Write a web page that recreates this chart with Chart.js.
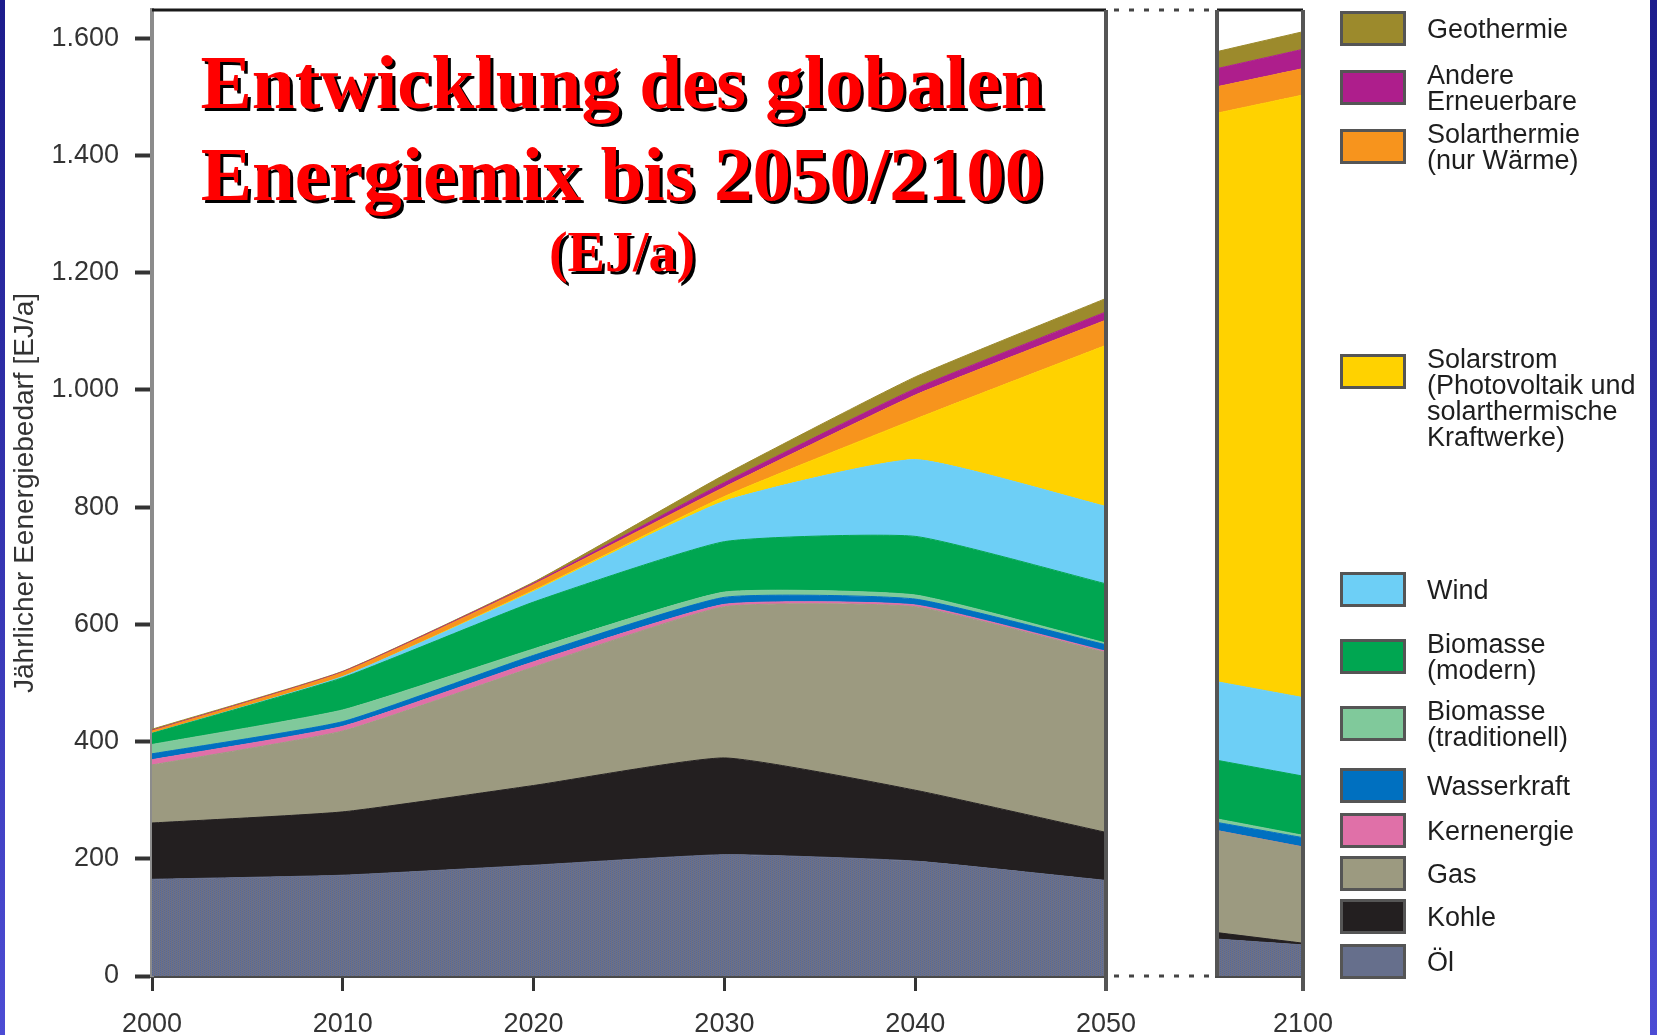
<!DOCTYPE html>
<html lang="de">
<head>
<meta charset="utf-8">
<script src="https://cdn.jsdelivr.net/npm/chart.js@4.4.1/dist/chart.umd.min.js"></script>
<style>
  html, body { margin: 0; padding: 0; }
  body {
    width: 1657px; height: 1035px; position: relative; overflow: hidden;
    background: linear-gradient(#1c1c8c, #4c4cd4);
    font-family: "Liberation Sans", Arial, sans-serif;
  }
  #panel { position: absolute; left: 5px; top: 0; width: 1645px; height: 1035px; background: #fff; }
  canvas { position: absolute; top: 0; }
  #c1 { left: 0; }
  #c2 { left: 1190px; }
  .title {
    position: absolute; left: 0; width: 1244px; text-align: center;
    font-family: "Liberation Serif", "Times New Roman", serif; font-weight: bold;
    color: #ff0000; text-shadow: 3px 3px 0 #000; line-height: 1; white-space: nowrap;
  }
  .lg-box { position: absolute; left: 1340px; width: 60px; height: 29px; border: 3px solid #555; }
  .lg-text { position: absolute; left: 1427px; font-size: 27px; line-height: 26px; color: #1e1e1e; white-space: pre; }
</style>
</head>
<body>
<div id="panel"></div>
<canvas id="c1" width="1217" height="1035"></canvas>
<canvas id="c2" width="170" height="1035"></canvas>
<div class="title" style="top:44px;font-size:77px;">Entwicklung des globalen</div>
<div class="title" style="top:136px;font-size:77px;">Energiemix bis 2050/2100</div>
<div class="title" style="top:224px;font-size:56px;">(EJ/a)</div>
<div id="legend"></div>
<script>
// Jahre und Werte (EJ/a)
const years = [2000, 2010, 2020, 2030, 2040, 2050];
const oel          = [165, 172, 189, 207, 196, 163];
const kohle        = [96, 108, 136, 165, 121, 82];
const gas          = [99, 138, 202, 258, 313, 307];
const kern         = [9, 8, 9, 4, 3, 2];
const wasser       = [10, 8, 11, 12, 10, 11];
const bioTrad      = [16, 20, 11, 9, 7, 3];
const bioModern    = [19, 55, 80, 86, 100, 101];
const wind         = [0, 2, 18, 69, 131, 132];
const solarstrom   = [0, 0, 2, 8, 69, 275];
const solarthermie = [4, 7, 10, 16, 41, 43];
const andere       = [1, 1, 2, 8, 11, 14];
const geothermie   = [2, 1, 2, 13, 20, 23];

// Säule 2100 (linker und rechter Rand)
const years2100 = [2080, 2100];
const oel2100          = [63, 53];
const kohle2100        = [11, 3];
const gas2100          = [174, 164];
const kern2100         = [0, 0];
const wasser2100       = [14, 16];
const bioTrad2100      = [6, 4];
const bioModern2100    = [100, 101];
const wind2100         = [134, 134];
const solarstrom2100   = [970, 1028];
const solarthermie2100 = [45, 45];
const andere2100       = [31, 33];
const geothermie2100   = [29, 30];

const yTicks = [0, 200, 400, 600, 800, 1000, 1200, 1400, 1600];

const names = ['Öl', 'Kohle', 'Gas', 'Kernenergie', 'Wasserkraft', 'Biomasse (traditionell)',
  'Biomasse (modern)', 'Wind', 'Solarstrom', 'Solarthermie', 'Andere Erneuerbare', 'Geothermie'];
const legendText = ['Öl', 'Kohle', 'Gas', 'Kernenergie', 'Wasserkraft', 'Biomasse\n(traditionell)',
  'Biomasse\n(modern)', 'Wind', 'Solarstrom\n(Photovoltaik und\nsolarthermische\nKraftwerke)',
  'Solarthermie\n(nur Wärme)', 'Andere\nErneuerbare', 'Geothermie'];
const colors = ['#666f8c', '#231f20', '#9c9a80', '#e070a8', '#0070c0', '#80c99b',
  '#00a651', '#6dcff6', '#ffd200', '#f7941d', '#ae1e8c', '#9c8a2c'];
const legendTop = [944, 899, 856, 813, 768, 706, 639, 572, 354, 129, 70, 11];

const series = [oel, kohle, gas, kern, wasser, bioTrad, bioModern, wind, solarstrom, solarthermie, andere, geothermie];
const series2100 = [oel2100, kohle2100, gas2100, kern2100, wasser2100, bioTrad2100, bioModern2100,
  wind2100, solarstrom2100, solarthermie2100, andere2100, geothermie2100];

const Y_MAX = 1648;
const tickFont = { family: '"Liberation Sans", Arial, sans-serif', size: 27 };

function fmt(v) {
  return String(v).replace(/\B(?=(\d{3})+(?!\d))/g, '.');
}

// gesprenkeltes Muster für Öl
function oelPattern(ctx) {
  const c = document.createElement('canvas');
  c.width = 4; c.height = 4;
  const g = c.getContext('2d');
  const cols = ['#5c6a8a', '#70717f', '#63709a', '#6d6f86'];
  for (let i = 0; i < 4; i++) {
    for (let j = 0; j < 4; j++) {
      g.fillStyle = cols[(i + 2 * j) % 4];
      g.fillRect(i, j, 1, 1);
    }
  }
  return ctx.createPattern(c, 'repeat');
}

function buildDatasets(xs, cols, ctx) {
  return cols.map((vals, i) => ({
    label: names[i],
    data: vals.map((v, j) => ({ x: xs[j], y: v })),
    backgroundColor: i === 0 ? oelPattern(ctx) : colors[i],
    borderColor: i === 0 ? '#666f8c' : colors[i],
    borderWidth: 1,
    pointRadius: 0,
    fill: i === 0 ? 'origin' : '-1',
    tension: 0.15
  }));
}

function yAxis(show) {
  return {
    stacked: true, min: 0, max: Y_MAX, display: show,
    afterBuildTicks: s => { s.ticks = yTicks.map(v => ({ value: v })); },
    afterFit: s => {
      if (show) s.width = 146;
      s.paddingTop = 0;
      s.paddingBottom = 0;
    },
    ticks: { font: tickFont, color: '#333', padding: 16, callback: v => fmt(v) },
    grid: { drawOnChartArea: false, tickLength: 17, tickWidth: 4, tickColor: '#333' },
    border: { color: '#8c8c8c', width: 4 },
    title: {
      display: true, text: 'Jährlicher Eenergiebedarf [EJ/a]', color: '#333',
      font: { family: '"Liberation Sans", Arial, sans-serif', size: 28 }, padding: { top: 2, bottom: 0 }
    }
  };
}

function xAxis(min, max, tickVals) {
  return {
    type: 'linear', min: min, max: max,
    afterBuildTicks: s => { s.ticks = tickVals.map(v => ({ value: v })); },
    afterFit: s => {
      s.height = 59;
      s.paddingLeft = 0;
      s.paddingRight = 0;
    },
    ticks: { font: tickFont, color: '#333', padding: 17, maxRotation: 0, callback: v => String(v) },
    grid: { drawOnChartArea: false, tickLength: 15, tickWidth: 3, tickColor: '#333' },
    border: { color: '#4a4a4a', width: 4 }
  };
}

// Rahmen oben/rechts und gepunktete Verbindung zur 2100-Säule
const framePlugin = {
  id: 'frame',
  afterDraw(chart, args, opts) {
    const { ctx, chartArea: a } = chart;
    ctx.save();
    ctx.strokeStyle = '#1a1a1a';
    ctx.lineWidth = 3;
    ctx.beginPath();
    ctx.moveTo(a.left, a.top);
    ctx.lineTo(a.right, a.top);
    ctx.stroke();
    ctx.strokeStyle = '#555';
    ctx.lineWidth = 4;
    ctx.beginPath();
    if (opts.leftEdge) {
      ctx.moveTo(a.left, a.top);
      ctx.lineTo(a.left, a.bottom);
    }
    ctx.moveTo(a.right, a.top);
    ctx.lineTo(a.right, a.bottom + 15);
    ctx.stroke();
    if (opts.dotted) {
      ctx.strokeStyle = '#444';
      ctx.lineWidth = 3;
      ctx.setLineDash([5, 10]);
      ctx.beginPath();
      ctx.moveTo(a.right + 8, a.top);
      ctx.lineTo(chart.width, a.top);
      ctx.moveTo(a.right + 8, a.bottom);
      ctx.lineTo(chart.width, a.bottom);
      ctx.stroke();
    }
    ctx.restore();
  }
};

function makeChart(id, xs, cols, xMin, xMax, xTicks, showY, padding, frameOpts) {
  const ctx = document.getElementById(id).getContext('2d');
  return new Chart(ctx, {
    type: 'line',
    data: { datasets: buildDatasets(xs, cols, ctx) },
    options: {
      responsive: false,
      animation: false,
      layout: { padding: padding },
      plugins: { legend: { display: false }, tooltip: { enabled: false }, frame: frameOpts },
      scales: { x: xAxis(xMin, xMax, xTicks), y: yAxis(showY) }
    },
    plugins: [framePlugin]
  });
}

makeChart('c1', years, series, 2000, 2050, years, true,
  { left: 6, top: 10, right: 111, bottom: 0 }, { dotted: true, leftEdge: false });
makeChart('c2', years2100, series2100, 2080, 2100, [2100], false,
  { left: 27, top: 10, right: 57, bottom: 0 }, { dotted: false, leftEdge: true });

// Legende (oben nach unten wie im Original)
const legend = document.getElementById('legend');
names.forEach((n, i) => {
  const box = document.createElement('div');
  box.className = 'lg-box';
  box.style.top = legendTop[i] + 'px';
  box.style.background = colors[i];
  legend.appendChild(box);
  const lines = legendText[i].split('\n').length;
  const txt = document.createElement('div');
  txt.className = 'lg-text';
  txt.textContent = legendText[i];
  txt.style.top = (legendTop[i] + 17.5 - 13 * Math.min(lines, 2)) + 'px';
  legend.appendChild(txt);
});
</script>
</body>
</html>
